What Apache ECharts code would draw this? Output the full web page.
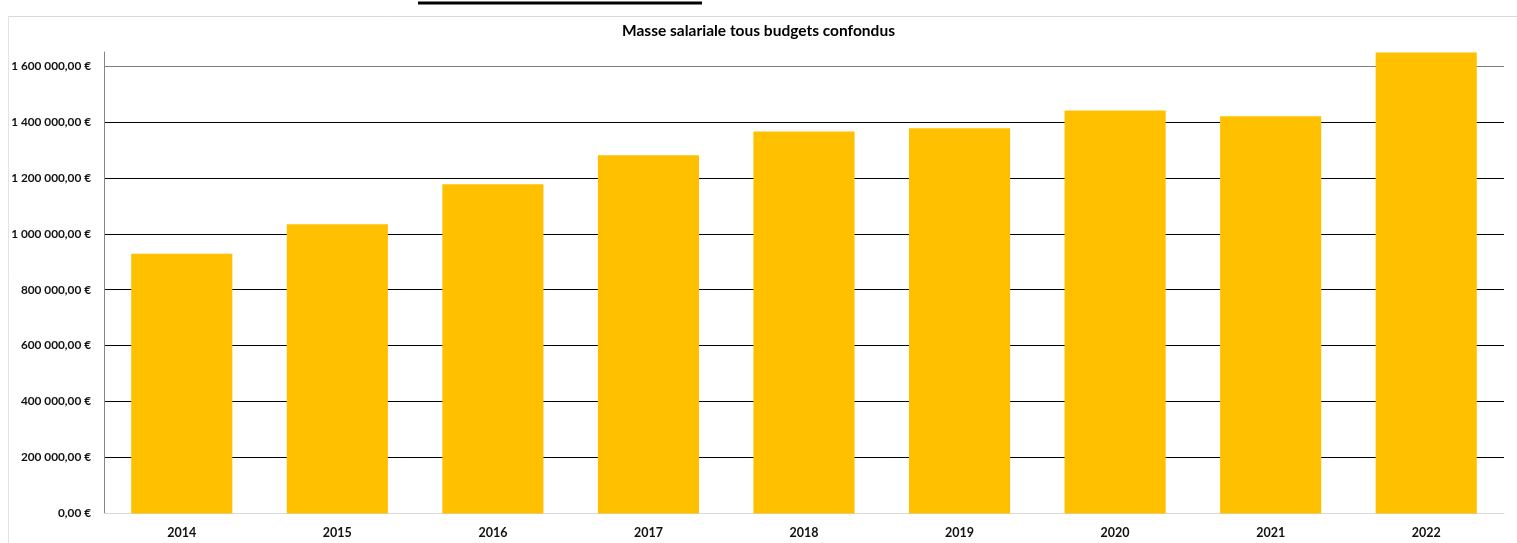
<!DOCTYPE html>
<html>
<head>
<meta charset="utf-8">
<script src="https://cdn.jsdelivr.net/npm/echarts@6/dist/echarts.min.js"></script>
<style>
html, body { margin: 0; padding: 0; background: #fff; }
#chart { width: 1517px; height: 543px; }
</style>
</head>
<body>
<div id="chart"></div>
<script>
// données
const years = ['2014', '2015', '2016', '2017', '2018', '2019', '2020', '2021', '2022'];
const masseSalariale = [929000, 1034000, 1177000, 1281000, 1366000, 1377000, 1441000, 1420000, 1648000];
const yTicks = [0, 200000, 400000, 600000, 800000, 1000000, 1200000, 1400000, 1600000];

function formatEuro(v) {
    let s = Math.round(v).toString().replace(/\B(?=(\d{3})+(?!\d))/g, ' ');
    return s + ',00 €';
}

let chart = echarts.init(document.getElementById('chart'));

let option = {
    animation: false,
    title: {
        text: 'Masse salariale tous budgets confondus',
        left: 'center',
        top: 18,
        textStyle: {
            fontFamily: 'Lato',
            fontWeight: 'bold',
            fontSize: 15.5,
            color: '#000'
        }
    },
    grid: {
        left: 104,
        right: 13,
        top: 52,
        bottom: 29.5
    },
    xAxis: {
        type: 'category',
        data: years,
        axisLine: { show: true, lineStyle: { color: '#d9d9d9', width: 1 } },
        axisTick: { show: false },
        axisLabel: {
            margin: 13,
            fontFamily: 'Lato',
            fontWeight: 'bold',
            fontSize: 12.5,
            color: '#111'
        }
    },
    yAxis: {
        type: 'value',
        min: 0,
        max: 1650000,
        interval: 200000,
        axisLine: { show: true, lineStyle: { color: '#868686', width: 1 } },
        axisTick: { show: false },
        axisLabel: {
            margin: 13,
            showMaxLabel: false,
            fontFamily: 'Lato',
            fontWeight: 'bold',
            fontSize: 11.8,
            color: '#111',
            formatter: function (v) {
                return yTicks.indexOf(v) >= 0 ? formatEuro(v) : '';
            }
        },
        splitLine: {
            show: true,
            lineStyle: {
                color: ['#d9d9d9', '#000', '#000', '#000', '#000', '#000', '#000', '#000', '#7f7f7f', 'rgba(0,0,0,0)'],
                width: 1
            }
        }
    },
    series: [
        {
            name: 'Masse salariale',
            type: 'bar',
            data: masseSalariale,
            barCategoryGap: '35%',
            itemStyle: { color: '#ffc000' }
        }
    ],
    graphic: [
        {
            type: 'line',
            shape: { x1: 8, y1: 16.5, x2: 1517, y2: 16.5 },
            style: { stroke: '#d9d9d9', lineWidth: 1 }
        },
        {
            type: 'line',
            shape: { x1: 8.5, y1: 16, x2: 8.5, y2: 543 },
            style: { stroke: '#e3e3e3', lineWidth: 1 }
        },
        {
            type: 'line',
            shape: { x1: 418, y1: 3, x2: 702, y2: 3 },
            style: { stroke: '#000', lineWidth: 3 }
        }
    ]
};

chart.setOption(option);
</script>
</body>
</html>
